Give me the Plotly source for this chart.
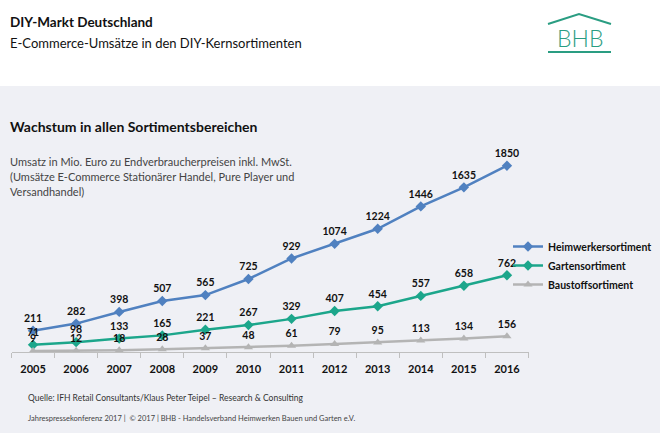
import plotly.graph_objects as go

W, H = 660, 433

years = ["2005", "2006", "2007", "2008", "2009", "2010", "2011", "2012", "2013", "2014", "2015", "2016"]
heimwerker = [211, 282, 398, 507, 565, 725, 929, 1074, 1224, 1446, 1635, 1850]
garten = [71, 98, 133, 165, 221, 267, 329, 407, 454, 557, 658, 762]
baustoff = [9, 12, 18, 28, 37, 48, 61, 79, 95, 113, 134, 156]

series_names = ["Heimwerkersortiment", "Gartensortiment", "Baustoffsortiment"]
series_colors = ["#5081C0", "#1CA68B", "#B4B4B4"]
series_symbols = ["diamond", "diamond", "triangle-up"]

FONT = "Lato, 'Open Sans', sans-serif"
BG = "#EFF0F5"
TEAL = "#2A9D82"


def px(x):
    return x / W


def py(y):
    return 1 - y / H


fig = go.Figure()
for name, vals, col, sym in zip(series_names, [heimwerker, garten, baustoff], series_colors, series_symbols):
    fig.add_trace(go.Scatter(
        x=years, y=vals, name=name,
        mode="lines+markers+text",
        line=dict(color=col, width=2.5),
        marker=dict(symbol=sym, size=8, color=col),
        text=[str(v) for v in vals],
        textposition="top center",
        textfont=dict(family=FONT, size=10.5, color="#111111", weight="bold"),
        cliponaxis=False,
    ))

x0, x1 = 11.5, 528.5
ytop, ybot = 150.6, 352

fig.update_layout(
    width=W, height=H,
    margin=dict(l=0, r=0, t=0, b=0),
    paper_bgcolor=BG, plot_bgcolor="rgba(0,0,0,0)",
    font=dict(family=FONT, color="#111111"),
    showlegend=True,
    legend=dict(
        x=px(508), y=py(232), xanchor="left", yanchor="top",
        bgcolor="rgba(0,0,0,0)",
        font=dict(family=FONT, size=10.5, color="#111111", weight="bold"),
        itemwidth=30,
    ),
    xaxis=dict(
        domain=[px(x0), px(x1)],
        type="category", range=[-0.5, 11.5],
        showline=True, linecolor="#BFBFBF", linewidth=1,
        ticks="outside", tickson="boundaries", ticklen=5, tickcolor="#BFBFBF",
        ticklabelstandoff=7,
        showgrid=False, zeroline=False,
        tickfont=dict(family=FONT, size=11, color="#111111", weight="bold"),
    ),
    yaxis=dict(
        domain=[py(ybot), py(ytop)],
        range=[0, 2000],
        showticklabels=False, showgrid=False, zeroline=False, showline=False,
    ),
)

shapes = [
    # white header band
    dict(type="rect", xref="paper", yref="paper", x0=0, x1=1, y0=py(86), y1=1,
         fillcolor="white", line=dict(width=0), layer="below"),
    # logo roof
    dict(type="path", xref="paper", yref="paper",
         path=f"M {px(548)},{py(24)} L {px(579)},{py(14)} L {px(611)},{py(24)}",
         line=dict(color=TEAL, width=2)),
    # logo underline
    dict(type="line", xref="paper", yref="paper", x0=px(548), x1=px(611), y0=py(52), y1=py(52),
         line=dict(color=TEAL, width=2)),
]

annotations = [
    dict(text="<b>DIY-Markt Deutschland</b>", x=px(8), y=py(22), size=13.5, color="#111111"),
    dict(text="E-Commerce-Umsätze in den DIY-Kernsortimenten", x=px(8), y=py(43), size=13, color="#111111"),
    dict(text="<b>Wachstum in allen Sortimentsbereichen</b>", x=px(8), y=py(127), size=14, color="#111111"),
    dict(text="Umsatz in Mio. Euro zu Endverbraucherpreisen inkl. MwSt.", x=px(8), y=py(161), size=11, color="#444444"),
    dict(text="(Umsätze E-Commerce Stationärer Handel, Pure Player und", x=px(8), y=py(176), size=11, color="#444444"),
    dict(text="Versandhandel)", x=px(8), y=py(191), size=11, color="#444444"),
    dict(text="Quelle: IFH Retail Consultants/Klaus Peter Teipel – Research & Consulting", x=px(26), y=py(398), size=8.5, color="#333333"),
    dict(text="Jahrespressekonferenz 2017 |  © 2017 | BHB - Handelsverband Heimwerken Bauen und Garten e.V.", x=px(26), y=py(418), size=7.5, color="#444444"),
]
ann_objs = []
for a in annotations:
    ann_objs.append(dict(
        text=a["text"], x=a["x"], y=a["y"], xref="paper", yref="paper",
        xanchor="left", yanchor="middle", showarrow=False,
        font=dict(family=FONT, size=a["size"], color=a["color"]),
    ))
ann_objs.append(dict(
    text="BHB", x=px(580), y=py(38), xref="paper", yref="paper",
    xanchor="center", yanchor="middle", showarrow=False,
    font=dict(family="Lato, sans-serif", size=23, color=TEAL, weight=300),
))

fig.update_layout(shapes=shapes, annotations=ann_objs)
fig.write_html("out.html")
